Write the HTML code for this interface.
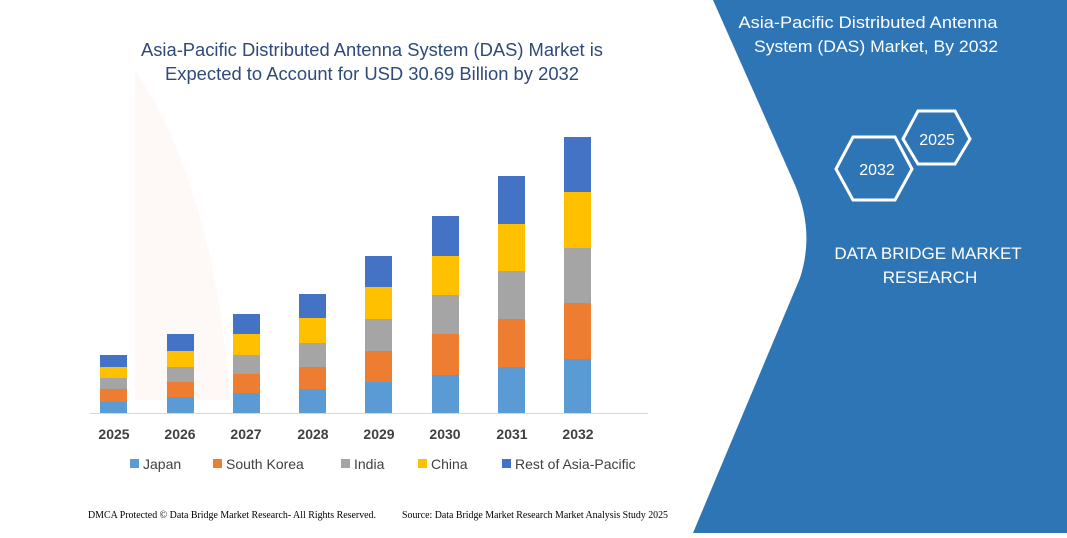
<!DOCTYPE html>
<html><head><meta charset="utf-8"><style>
body{margin:0;width:1067px;height:533px;overflow:hidden;background:#fff;font-family:"Liberation Sans",sans-serif;}
</style></head><body>
<svg width="1067" height="533" xmlns="http://www.w3.org/2000/svg">
<rect width="1067" height="533" fill="#fff"/>
<path d="M135,70 L135,400 L230,400 Q215,190 135,70Z" fill="#fdf3ee" opacity="0.5"/>
<path d="M713,0 L795,185 Q815,232 800,278 L693,533 L1067,533 L1067,0 Z" fill="#2e75b6"/>
<g font-family="Liberation Sans, sans-serif" fill="#2f4a7a" font-size="18.3" text-anchor="middle">
<text x="372" y="56" textLength="462" lengthAdjust="spacingAndGlyphs">Asia-Pacific Distributed Antenna System (DAS) Market is</text>
<text x="372" y="80" textLength="414" lengthAdjust="spacingAndGlyphs">Expected to Account for USD 30.69 Billion by 2032</text>
</g>
<g fill="#fff" font-size="17" text-anchor="middle">
<text x="868" y="28" textLength="259" lengthAdjust="spacingAndGlyphs">Asia-Pacific Distributed Antenna</text>
<text x="876" y="52" textLength="244" lengthAdjust="spacingAndGlyphs">System (DAS) Market, By 2032</text>
<text x="928" y="259">DATA BRIDGE MARKET</text>
<text x="930" y="283">RESEARCH</text>
</g>
<g fill="none" stroke="#fff" stroke-width="3">
<polygon points="836,169 853,137 895,137 912,169 895,200 853,200"/>
<polygon points="903,139 918,111 955,111 970,139 955,164 918,164"/>
</g>
<g fill="#fff" font-size="16" text-anchor="middle">
<text x="877" y="175">2032</text>
<text x="937" y="145">2025</text>
</g>
<line x1="90" y1="413.5" x2="648" y2="413.5" stroke="#d9d9d9"/>
<g font-weight="bold" font-size="14" fill="#404040" text-anchor="middle">
<text x="114" y="439">2025</text><text x="180" y="439">2026</text><text x="246" y="439">2027</text><text x="313" y="439">2028</text><text x="379" y="439">2029</text><text x="445" y="439">2030</text><text x="512" y="439">2031</text><text x="578" y="439">2032</text>
</g>
<g font-size="14" fill="#404040">
<rect x="130" y="459" width="9" height="9" fill="#5b9bd5"/><text x="143" y="469">Japan</text>
<rect x="213" y="459" width="9" height="9" fill="#ed7d31"/><text x="226" y="469">South Korea</text>
<rect x="341" y="459" width="9" height="9" fill="#a5a5a5"/><text x="354" y="469">India</text>
<rect x="418" y="459" width="9" height="9" fill="#ffc000"/><text x="431" y="469">China</text>
<rect x="502" y="459" width="9" height="9" fill="#4472c4"/><text x="515" y="469">Rest of Asia-Pacific</text>
</g>
<g font-family="Liberation Serif, serif" font-size="10" fill="#000">
<text x="88" y="518" textLength="288" lengthAdjust="spacingAndGlyphs">DMCA Protected © Data Bridge Market Research- All Rights Reserved.</text>
<text x="402" y="518" textLength="266" lengthAdjust="spacingAndGlyphs">Source: Data Bridge Market Research Market Analysis Study 2025</text>
</g>
<g>
<rect x="100" y="355" width="27" height="12" fill="#4472c4"/><rect x="100" y="367" width="27" height="11" fill="#ffc000"/><rect x="100" y="378" width="27" height="11" fill="#a5a5a5"/><rect x="100" y="389" width="27" height="13" fill="#ed7d31"/><rect x="100" y="402" width="27" height="11" fill="#5b9bd5"/>
<rect x="167" y="334" width="27" height="17" fill="#4472c4"/><rect x="167" y="351" width="27" height="16" fill="#ffc000"/><rect x="167" y="367" width="27" height="15" fill="#a5a5a5"/><rect x="167" y="382" width="27" height="15" fill="#ed7d31"/><rect x="167" y="397" width="27" height="16" fill="#5b9bd5"/>
<rect x="233" y="314" width="27" height="20" fill="#4472c4"/><rect x="233" y="334" width="27" height="21" fill="#ffc000"/><rect x="233" y="355" width="27" height="19" fill="#a5a5a5"/><rect x="233" y="374" width="27" height="19" fill="#ed7d31"/><rect x="233" y="393" width="27" height="20" fill="#5b9bd5"/>
<rect x="299" y="294" width="27" height="24" fill="#4472c4"/><rect x="299" y="318" width="27" height="25" fill="#ffc000"/><rect x="299" y="343" width="27" height="24" fill="#a5a5a5"/><rect x="299" y="367" width="27" height="22" fill="#ed7d31"/><rect x="299" y="389" width="27" height="24" fill="#5b9bd5"/>
<rect x="365" y="256" width="27" height="31" fill="#4472c4"/><rect x="365" y="287" width="27" height="32" fill="#ffc000"/><rect x="365" y="319" width="27" height="32" fill="#a5a5a5"/><rect x="365" y="351" width="27" height="31" fill="#ed7d31"/><rect x="365" y="382" width="27" height="31" fill="#5b9bd5"/>
<rect x="432" y="216" width="27" height="40" fill="#4472c4"/><rect x="432" y="256" width="27" height="39" fill="#ffc000"/><rect x="432" y="295" width="27" height="39" fill="#a5a5a5"/><rect x="432" y="334" width="27" height="41" fill="#ed7d31"/><rect x="432" y="375" width="27" height="38" fill="#5b9bd5"/>
<rect x="498" y="176" width="27" height="48" fill="#4472c4"/><rect x="498" y="224" width="27" height="47" fill="#ffc000"/><rect x="498" y="271" width="27" height="48" fill="#a5a5a5"/><rect x="498" y="319" width="27" height="48" fill="#ed7d31"/><rect x="498" y="367" width="27" height="46" fill="#5b9bd5"/>
<rect x="564" y="137" width="27" height="55" fill="#4472c4"/><rect x="564" y="192" width="27" height="56" fill="#ffc000"/><rect x="564" y="248" width="27" height="55" fill="#a5a5a5"/><rect x="564" y="303" width="27" height="56" fill="#ed7d31"/><rect x="564" y="359" width="27" height="54" fill="#5b9bd5"/>
</g>
</svg>
</body></html>
